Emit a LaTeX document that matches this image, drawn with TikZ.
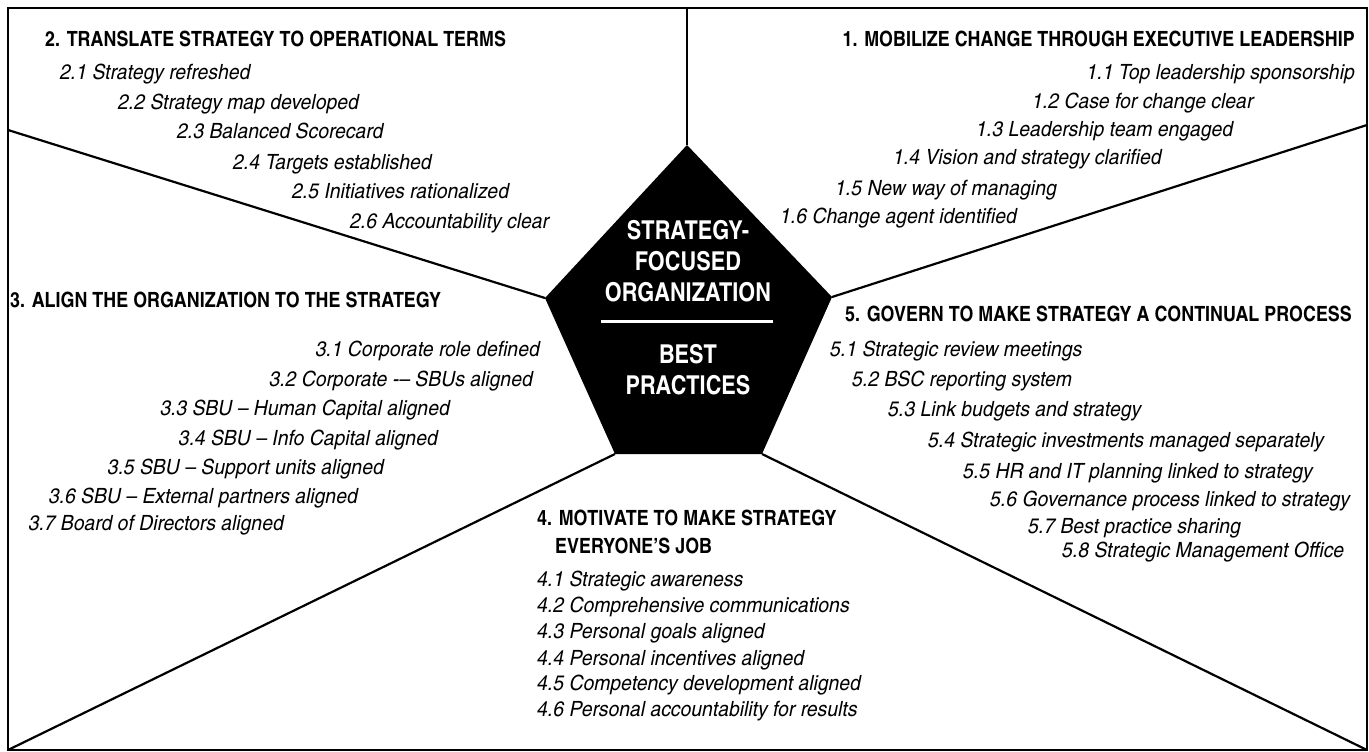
\documentclass[tikz,border=0pt]{standalone}
\usepackage{fontspec}
\setmainfont{texgyreheroscn}[Extension=.otf, UprightFont=*-regular, BoldFont=*-bold, ItalicFont=*-italic, BoldItalicFont=*-bolditalic]
\newfontfamily\itemfont{texgyreheroscn-italic}[Extension=.otf, FakeStretch=1.125]
\newfontfamily\headfont{texgyreheroscn-bold}[Extension=.otf, FakeStretch=1.04]
\newfontfamily\corefont{texgyreheroscn-bold}[Extension=.otf, FakeStretch=1.02]
\begin{document}
\begin{tikzpicture}[x=1pt,y=-1pt,
  frame/.style={line width=2pt},
  spoke/.style={line width=2.2pt},
  head/.style={font=\headfont\fontsize{21}{28}\selectfont, inner sep=0pt, anchor=base west},
  headr/.style={head, anchor=base east},
  item/.style={font=\itemfont\fontsize{21}{24}\selectfont, inner sep=0pt, anchor=base west},
  itemr/.style={item, anchor=base east},
  core/.style={font=\corefont\fontsize{26}{31}\selectfont, text=white, inner sep=0pt, align=center}
]
\useasboundingbox (0,0) rectangle (1369,752);

% outer frame corners and spoke ends
\coordinate (TL) at (8,8);
\coordinate (BR) at (1367,750);
\coordinate (BL) at (8,750);
\coordinate (topEnd) at (687,8);
\coordinate (leftEnd) at (8,130);
\coordinate (rightEnd) at (1367,125);

% pentagon vertices
\coordinate (pT) at (687,145);
\coordinate (pL) at (545,298);
\coordinate (pR) at (832,297);
\coordinate (pBL) at (615,454);
\coordinate (pBR) at (762,454);

\draw[frame] (TL) rectangle (BR);
\fill (pT) -- (pR) -- (pBR) -- (pBL) -- (pL) -- cycle;
\draw[spoke] (pT) -- (topEnd);
\draw[spoke] (pL) -- (leftEnd);
\draw[spoke] (pR) -- (rightEnd);
\draw[spoke] (pBL) -- (BL);
\draw[spoke] (pBR) -- (BR);

% centre
\node[core] (c1) at (688,261) {STRATEGY-\\FOCUSED\\ORGANIZATION};
\coordinate (ruleL) at (601,321);
\coordinate (ruleR) at (773,321);
\draw[white, line width=3pt] (ruleL) -- (ruleR);
\node[core] (c2) at (688,370) {BEST\\PRACTICES};

% section 2
\node[head] (h2) at (45,47) {2. TRANSLATE STRATEGY TO OPERATIONAL TERMS};
\node[item] (i21) at (60,80) {2.1 Strategy refreshed};
\node[item] (i22) at (118,110) {2.2 Strategy map developed};
\node[item] (i23) at (177,139) {2.3 Balanced Scorecard};
\node[item] (i24) at (233,169) {2.4 Targets established};
\node[item] (i25) at (292,198) {2.5 Initiatives rationalized};
\node[item] (i26) at (350,228) {2.6 Accountability clear};

% section 1
\node[headr] (h1) at (1355,47) {1. MOBILIZE CHANGE THROUGH EXECUTIVE LEADERSHIP};
\node[itemr] (i11) at (1355,80) {1.1 Top leadership sponsorship};
\node[item] (i12) at (1032,108) {1.2 Case for change clear};
\node[item] (i13) at (976,136) {1.3 Leadership team engaged};
\node[item] (i14) at (893,164) {1.4 Vision and strategy clarified};
\node[item] (i15) at (835,195) {1.5 New way of managing};
\node[item] (i16) at (780,223) {1.6 Change agent identified};

% section 3
\node[head] (h3) at (10,307) {3. ALIGN THE ORGANIZATION TO THE STRATEGY};
\node[itemr] (i31) at (540,356) {3.1 Corporate role defined};
\node[itemr] (i32) at (533,386) {3.2 Corporate -– SBUs aligned};
\node[itemr] (i33) at (450,415) {3.3 SBU – Human Capital aligned};
\node[itemr] (i34) at (438,445) {3.4 SBU – Info Capital aligned};
\node[itemr] (i35) at (384,474) {3.5 SBU – Support units aligned};
\node[itemr] (i36) at (358,503) {3.6 SBU – External partners aligned};
\node[itemr] (i37) at (284,530) {3.7 Board of Directors aligned};

% section 5
\node[head] (h5) at (845,321) {5. GOVERN TO MAKE STRATEGY A CONTINUAL PROCESS};
\node[item] (i51) at (830,356) {5.1 Strategic review meetings};
\node[item] (i52) at (852,386) {5.2 BSC reporting system};
\node[item] (i53) at (888,416) {5.3 Link budgets and strategy};
\node[item] (i54) at (928,447) {5.4 Strategic investments managed separately};
\node[item] (i55) at (963,478) {5.5 HR and IT planning linked to strategy};
\node[item] (i56) at (990,506) {5.6 Governance process linked to strategy};
\node[item] (i57) at (1028,533) {5.7 Best practice sharing};
\node[item] (i58) at (1062,557) {5.8 Strategic Management Office};

% section 4
\node[head] (h4a) at (537,525) {4. MOTIVATE TO MAKE STRATEGY};
\node[head] (h4b) at (555,553) {EVERYONE’S JOB};
\node[item] (i41) at (537,586) {4.1 Strategic awareness};
\node[item] (i42) at (537,612) {4.2 Comprehensive communications};
\node[item] (i43) at (537,638) {4.3 Personal goals aligned};
\node[item] (i44) at (537,665) {4.4 Personal incentives aligned};
\node[item] (i45) at (537,690) {4.5 Competency development aligned};
\node[item] (i46) at (537,716) {4.6 Personal accountability for results};
\end{tikzpicture}
\end{document}
